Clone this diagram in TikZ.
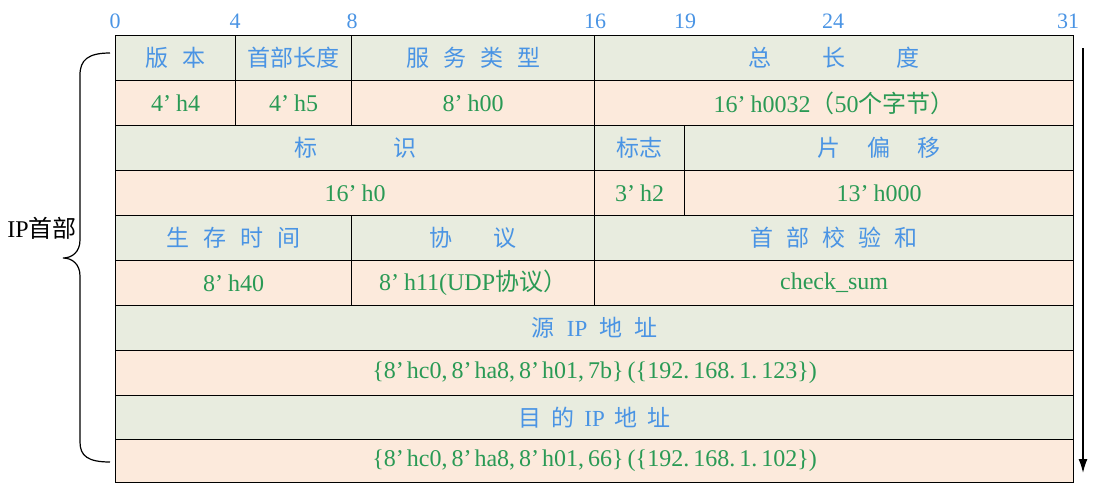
\documentclass[tikz,border=0pt]{standalone}
\usepackage{fontspec}
\setmainfont{Liberation Serif}
\newfontfamily\cjk{Noto Sans CJK SC}
\usetikzlibrary{arrows.meta}
\definecolor{hdrfill}{HTML}{E8ECDF}
\definecolor{valfill}{HTML}{FCEADC}
\definecolor{txtblue}{HTML}{4A94E4}
\definecolor{txtgreen}{HTML}{2A9A55}
\newcommand\hz[1]{{\cjk #1}}
\newcommand\ap{’\hspace{5pt}}
\newcommand\apn{’\hspace{3pt}}
\newcommand\cjkfs{\cjk\fontsize{23}{27}\selectfont}
\newcommand\latfs{\rmfamily\fontsize{24}{28}\selectfont}
\newcommand\numfs{\rmfamily\fontsize{22}{26}\selectfont}
\newcommand\cellat[7]{\node[#2, minimum width={(#5-#3)*1pt}, minimum height={(#6-#4)*1pt}] (#1) at (#3,#4) {#7};}
\tikzset{
  cell/.style={draw=black, line width=1.2pt, inner sep=0pt, anchor=north west},
  hdr/.style={cell, fill=hdrfill, text=txtblue, font=\cjkfs},
  val/.style={cell, fill=valfill, text=txtgreen, font=\latfs},
  bitlabel/.style={text=txtblue, font=\numfs, inner sep=0pt},
}
\begin{document}
\begin{tikzpicture}[x=1pt,y=-1pt]
\useasboundingbox (0,0) rectangle (1106,493);
% bit scale
\node[bitlabel] (s0) at (115,21) {0};
\node[bitlabel] (s4) at (235,21) {4};
\node[bitlabel] (s8) at (352,21) {8};
\node[bitlabel] (s16) at (595,21) {16};
\node[bitlabel] (s19) at (685,21) {19};
\node[bitlabel] (s24) at (833,21) {24};
\node[bitlabel] (s31) at (1068,21) {31};
% row 1
\cellat{ver}{hdr}{115}{35}{235}{80}{版\hspace{14pt}本}
\cellat{ihl}{hdr}{235}{35}{351}{80}{首部长度}
\cellat{tos}{hdr}{351}{35}{594}{80}{服\hspace{14pt}务\hspace{14pt}类\hspace{14pt}型}
\cellat{tlen}{hdr}{594}{35}{1073}{80}{总\hspace{51pt}长\hspace{51pt}度}
% row 2
\cellat{verv}{val}{115}{80}{235}{125}{4\ap h4}
\cellat{ihlv}{val}{235}{80}{351}{125}{4\ap h5}
\cellat{tosv}{val}{351}{80}{594}{125}{8\ap h00}
\cellat{tlenv}{val}{594}{80}{1073}{125}{16\ap h0032\hz{（}50\hz{个字节）}}
% row 3
\cellat{id}{hdr}{115}{125}{594}{170}{标\hspace{76pt}识}
\cellat{flg}{hdr}{594}{125}{684}{170}{标志}
\cellat{off}{hdr}{684}{125}{1073}{170}{片\hspace{27pt}偏\hspace{27pt}移}
% row 4
\cellat{idv}{val}{115}{170}{594}{215}{16\ap h0}
\cellat{flgv}{val}{594}{170}{684}{215}{3\ap h2}
\cellat{offv}{val}{684}{170}{1073}{215}{13\ap h000}
% row 5
\cellat{ttl}{hdr}{115}{215}{351}{260}{生\hspace{14pt}存\hspace{14pt}时\hspace{14pt}间}
\cellat{proto}{hdr}{351}{215}{594}{260}{协\hspace{41pt}议}
\cellat{csum}{hdr}{594}{215}{1073}{260}{首\hspace{13pt}部\hspace{13pt}校\hspace{13pt}验\hspace{13pt}和}
% row 6
\cellat{ttlv}{val}{115}{260}{351}{305}{8\ap h40}
\cellat{protov}{val}{351}{260}{594}{305}{8\ap h11(UDP\hz{协议）}}
\cellat{csumv}{val}{594}{260}{1073}{305}{check\_sum}
% row 7-10
\cellat{src}{hdr}{115}{305}{1073}{350}{源\hspace{12pt}{\rmfamily IP}\hspace{12pt}地\hspace{12pt}址}
\cellat{srcv}{val}{115}{350}{1073}{395}{\{8\apn hc0,\,8\apn ha8,\,8\apn h01,\,7b\}\,(\{192.\,168.\,1.\,123\})}
\cellat{dst}{hdr}{115}{395}{1073}{439}{目\hspace{10pt}的\hspace{10pt}{\rmfamily IP}\hspace{10pt}地\hspace{10pt}址}
\cellat{dstv}{val}{115}{439}{1073}{482}{\{8\apn hc0,\,8\apn ha8,\,8\apn h01,\,66\}\,(\{192.\,168.\,1.\,102\})}
% right arrow
\coordinate (atop) at (1083,48);
\coordinate (abot) at (1083,473);
\draw[line width=1.4pt, -{Latex[length=14pt,width=9pt]}] (atop) -- (abot);
% brace
\draw[line width=1.2pt] (110,53) .. controls (88,53) and (80,60) .. (80,75) -- (80,240)
  .. controls (80,252) and (72,258) .. (63,258)
  .. controls (72,258) and (80,264) .. (80,276) -- (80,442)
  .. controls (80,456) and (88,462) .. (110,462);
\node[anchor=east, inner sep=0pt, font=\latfs] (iphdr) at (77,228) {IP\hz{首部}};
\end{tikzpicture}
\end{document}
